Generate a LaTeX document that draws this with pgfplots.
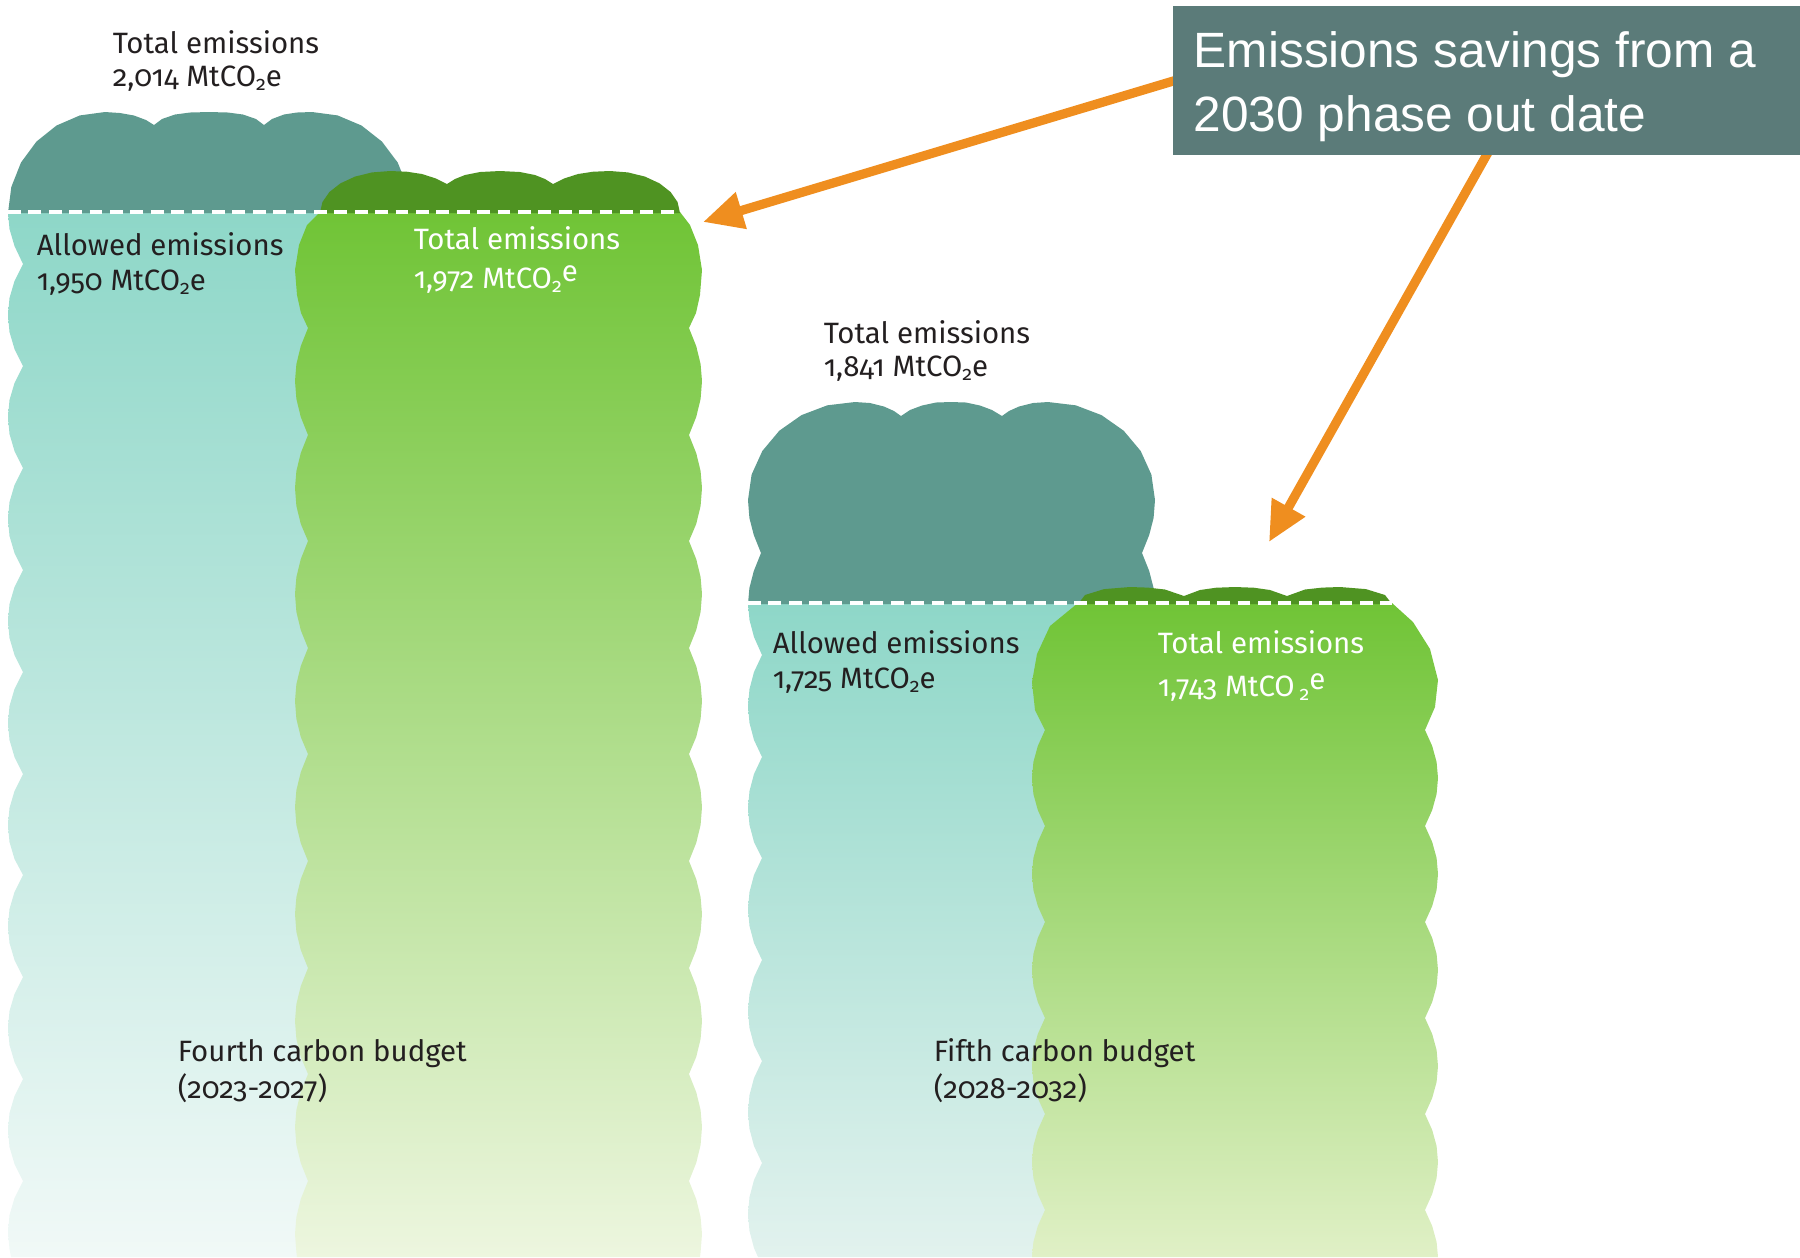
\documentclass[border=0pt]{standalone}
\usepackage{pgfplots}
\pgfplotsset{compat=1.18}
\usetikzlibrary{arrows.meta}
\usepackage{fontspec}
\newfontfamily\lab[Numbers=OldStyle]{Fira Sans}
\newfontfamily\boxf{Liberation Sans}
\definecolor{darkteal}{HTML}{5E9A8F}
\definecolor{tealtop}{HTML}{8ED7C8}
\definecolor{tealbotA}{HTML}{F1F9F7}
\definecolor{tealbotB}{HTML}{E2F2EE}
\definecolor{darkgreen}{HTML}{4F9322}
\definecolor{greentop}{HTML}{70C436}
\definecolor{greenbotA}{HTML}{EDF6DF}
\definecolor{greenbotB}{HTML}{E0F0C6}
\definecolor{boxc}{HTML}{5B7B79}
\definecolor{orangec}{HTML}{EF8E1F}
\definecolor{labdark}{HTML}{231F20}
\newcommand\labsize{\lab\fontsize{7.35}{9}\selectfont}
\newcommand\sub[1]{\raisebox{-0.3ex}{\fontsize{4.9}{5}\selectfont #1}}
\begin{document}
\begin{tikzpicture}
\begin{axis}[width=450pt, height=314.25pt, scale only axis, hide axis,
  xmin=0, xmax=1800, ymin=0, ymax=1257, y dir=reverse]
\addplot[draw=none] coordinates {(0,0) (1800,1257)};
% ---------- Fourth budget: allowed (teal) body ----------
\addplot[draw=none, top color=tealtop, bottom color=tealbotA] coordinates {
(8,212)(9.5,229)(14.5,246)(23,264)
(14.5,281)(9.5,298)(8,315)(9.5,332)(14.5,349)(23,366)
(14.5,383)(9.5,400)(8,417)(9.5,434)(14.5,451)(23,468)
(14.5,485)(9.5,502)(8,519)(9.5,536)(14.5,553)(23,570)
(14.5,587)(9.5,604)(8,621)(9.5,638)(14.5,655)(23,672)
(14.5,689)(9.5,706)(8,723)(9.5,740)(14.5,757)(23,774)
(14.5,791)(9.5,808)(8,825)(9.5,842)(14.5,859)(23,875)
(14.5,892)(9.5,909)(8,926)(9.5,943)(14.5,960)(23,977)
(14.5,994)(9.5,1011)(8,1028)(9.5,1045)(14.5,1062)(23,1079)
(14.5,1096)(9.5,1113)(8,1130)(9.5,1147)(14.5,1164)(23,1181)
(14.5,1198)(9.5,1215)(8,1232)(9.5,1249)(11,1257)
(420,1257)(420,212)};
% ---------- Fourth budget: total emissions 2,014 (dark teal cap) ----------
\addplot[draw=none, fill=darkteal] coordinates {
(8,213)(11.3,187)(21,162.5)(36.4,141.6)(56.5,125.5)(79.9,115.4)(105,112)
(120,113)(134,115.5)(146,120)(154,125)
(162,119)(175,114.5)(190,112.5)(209,112)(228,112.5)(243,114.5)(256,119)(264,125)
(272,119)(284,114.5)(297,112.5)(312,112)
(337.6,115.4)(361.5,125.5)(382,141.6)(397.7,162.5)(407.6,187)(411,213)};
% ---------- Fourth budget: phase-out total (green) body ----------
\addplot[draw=none, top color=greentop, bottom color=greenbotA] coordinates {
(320,212)(307,225)(299,245)(295,270)(297,295)(301,313)(308,328)
(300.8,346)(296.4,364)(295,381)(296.4,399)(300.8,417)(308,435)
(300.8,453)(296.4,471)(295,488)(296.4,506)(300.8,524)(308,541)
(300.8,559)(296.4,577)(295,594)(296.4,612)(300.8,630)(308,648)
(300.8,666)(296.4,684)(295,701)(296.4,719)(300.8,737)(308,754)
(300.8,772)(296.4,790)(295,807)(296.4,825)(300.8,843)(308,861)
(300.8,879)(296.4,897)(295,914)(296.4,932)(300.8,950)(308,968)
(300.8,986)(296.4,1004)(295,1021)(296.4,1039)(300.8,1057)(308,1074)
(300.8,1092)(296.4,1110)(295,1127)(296.4,1145)(300.8,1163)(308,1181)
(300.8,1199)(296.4,1217)(295,1234)(296.4,1252)(297,1257)
(700,1257)(700.6,1252)(702,1234)(700.6,1217)(696.2,1199)(689,1181)
(696.2,1163)(700.6,1145)(702,1127)(700.6,1110)(696.2,1092)(689,1074)
(696.2,1057)(700.6,1039)(702,1021)(700.6,1004)(696.2,986)(689,968)
(696.2,950)(700.6,932)(702,914)(700.6,897)(696.2,879)(689,861)
(696.2,843)(700.6,825)(702,807)(700.6,790)(696.2,772)(689,754)
(696.2,737)(700.6,719)(702,701)(700.6,684)(696.2,666)(689,648)
(696.2,630)(700.6,612)(702,594)(700.6,577)(696.2,559)(689,541)
(696.2,524)(700.6,506)(702,488)(700.6,471)(696.2,453)(689,435)
(696.2,417)(700.6,399)(702,381)(700.6,364)(696.2,346)(689,328)
(696,313)(700,295)(702,270)(698,245)(690,225)(680,212)};
% ---------- Fourth budget: green cap 1,972 ----------
\addplot[draw=none, fill=darkgreen] coordinates {
(320,213)(322.4,202.1)(329.4,192)(340.5,183.3)(355,176.6)(371.9,172.4)(390,171)
(407,171.7)(422,174)(436,178.5)(447,184)
(455,179)(465,175)(480,172)(500,171)(520,172)(535,175)(545,179)(553,184)
(564,178.5)(578,174)(593,171.7)(610,171)
(628.1,172.4)(645,176.6)(659.5,183.3)(670.6,192)(677.6,202.1)(680,213)};
\addplot[draw=white, line width=0.8pt, dash pattern=on 3.2pt off 1.9pt] coordinates {(8,212) (681,212)};
% ---------- Fifth budget: allowed (teal) body ----------
\addplot[draw=none, top color=tealtop, bottom color=tealbotB] coordinates {
(748,603)(749.5,620)(754,637)(762,655)
(754,672)(749.5,689)(748,706)(749.5,723)(754,740)(762,757)
(754,774)(749.5,791)(748,808)(749.5,825)(754,842)(762,858)
(754,875)(749.5,892)(748,909)(749.5,926)(754,943)(762,960)
(754,977)(749.5,994)(748,1011)(749.5,1028)(754,1045)(762,1061)
(754,1078)(749.5,1095)(748,1112)(749.5,1129)(754,1146)(762,1163)
(754,1180)(749.5,1197)(748,1214)(749.5,1231)(754,1248)(758,1257)
(1120,1257)(1120,603)};
% ---------- Fifth budget: total emissions 1,841 (dark teal cap) ----------
\addplot[draw=none, fill=darkteal] coordinates {
(748,604)(749.4,588)(753.8,571)(761,553)(753.8,535)(749.4,518)(748,500)
(751.6,474.6)(762.3,451)(779.3,430.7)(801.5,415.1)(827.3,405.3)(855,402)
(870,403)(884,406.5)(894,411)(901,416)
(910,410)(922,405.5)(936,402.5)(951,402)(966,402.5)(980,405.5)(992,410)(1002,416)
(1009,411)(1019,406.5)(1033,403)(1048,402)
(1075.7,405.3)(1101.5,415.1)(1123.7,430.7)(1140.7,451)(1151.4,474.6)(1155,500)
(1153.6,518)(1149.2,535)(1142,553)(1149.2,571)(1153.6,588)(1155,604)};
% ---------- Fifth budget: phase-out total (green) body ----------
\addplot[draw=none, top color=greentop, bottom color=greenbotB] coordinates {
(1078,603)(1050,626)(1037,654)(1032,682)(1035,710)(1045,730)
(1037.8,746)(1033.4,762)(1032,778)(1033.4,794)(1037.8,810)(1045,826)
(1037.8,842)(1033.4,858)(1032,874)(1033.4,890)(1037.8,906)(1045,922)
(1037.8,938)(1033.4,954)(1032,970)(1033.4,986)(1037.8,1002)(1045,1018)
(1037.8,1034)(1033.4,1050)(1032,1066)(1033.4,1082)(1037.8,1098)(1045,1114)
(1037.8,1130)(1033.4,1146)(1032,1162)(1033.4,1178)(1037.8,1194)(1045,1210)
(1037.8,1226)(1033.4,1242)(1032,1257)
(1438,1257)(1436.6,1242)(1432.2,1226)(1425,1210)
(1432.2,1194)(1436.6,1178)(1438,1162)(1436.6,1146)(1432.2,1130)(1425,1114)
(1432.2,1098)(1436.6,1082)(1438,1066)(1436.6,1050)(1432.2,1034)(1425,1018)
(1432.2,1002)(1436.6,986)(1438,970)(1436.6,954)(1432.2,938)(1425,922)
(1432.2,906)(1436.6,890)(1438,874)(1436.6,858)(1432.2,842)(1425,826)
(1432.2,810)(1436.6,794)(1438,778)(1436.6,762)(1432.2,746)(1425,730)
(1435,707)(1438,680)(1430,649)(1413,622)(1392,603)};
% ---------- Fifth budget: green cap 1,743 ----------
\addplot[draw=none, fill=darkgreen] coordinates {
(1078,604)(1085,595)(1104,589.1)(1130,587)(1148,587.6)(1165,589.5)(1184,596)
(1200,590)(1216,587.7)(1235,587)(1254,587.7)(1270,590)(1287,596)
(1305,589.5)(1322,587.6)(1340,587)(1366,589.1)(1385,595)(1392,604)};
\addplot[draw=white, line width=0.8pt, dash pattern=on 3.2pt off 1.9pt] coordinates {(748,603) (1392,603)};
% ---------- Arrows and callout ----------
\addplot[draw=orangec, line width=2.3pt, -{Triangle[length=10pt,width=9pt]}] coordinates {(1200,73) (703,222)};
\addplot[draw=orangec, line width=2.3pt, -{Triangle[length=10pt,width=9pt]}] coordinates {(1495,140) (1269,542)};
\addplot[draw=none, fill=boxc] coordinates {(1173,6) (1800,6) (1800,155) (1173,155)};
% ---------- Labels ----------
\begin{scope}[every node/.style={anchor=base west, inner sep=0pt, font=\labsize, text=labdark}]
\node at (axis cs:112,53) {Total emissions};
\node at (axis cs:112,86) {2,014 MtCO\sub{2}e};
\node at (axis cs:36,255) {Allowed emissions};
\node at (axis cs:36,290) {1,950 MtCO\sub{2}e};
\node[text=white] at (axis cs:413,249) {Total emissions};
\node[text=white] at (axis cs:413,288) {1,972 MtCO\sub{2}\raisebox{0.45ex}{e}};
\node at (axis cs:823,343) {Total emissions};
\node at (axis cs:823,376) {1,841 MtCO\sub{2}e};
\node at (axis cs:772,653) {Allowed emissions};
\node at (axis cs:772,688) {1,725 MtCO\sub{2}e};
\node[text=white] at (axis cs:1157,653) {Total emissions};
\node[text=white] at (axis cs:1157,696) {1,743 MtCO\,\sub{2}\raisebox{0.45ex}{e}};
\node at (axis cs:177,1061) {Fourth carbon budget};
\node at (axis cs:177,1098) {(2023-2027)};
\node at (axis cs:933,1061) {Fifth carbon budget};
\node at (axis cs:933,1098) {(2028-2032)};
\end{scope}
\node[anchor=base west, inner sep=0pt, text=white, font=\boxf\fontsize{12.4}{14}\selectfont] at (axis cs:1193,67) {Emissions savings from a};
\node[anchor=base west, inner sep=0pt, text=white, font=\boxf\fontsize{12.4}{14}\selectfont] at (axis cs:1193,131) {2030 phase out date};
\end{axis}
\end{tikzpicture}
\end{document}
